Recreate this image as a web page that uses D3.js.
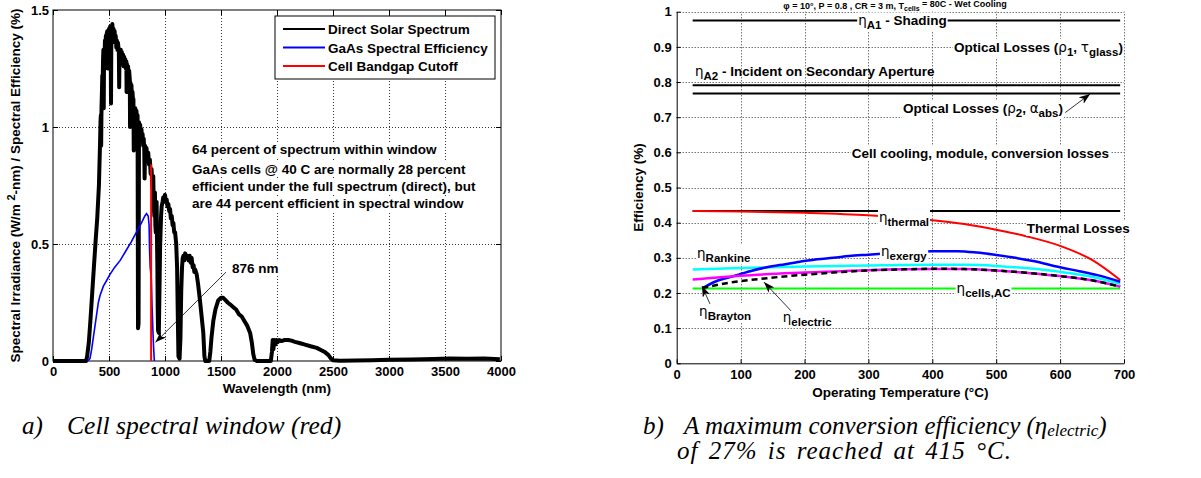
<!DOCTYPE html>
<html>
<head>
<meta charset="utf-8">
<script src="https://cdn.jsdelivr.net/npm/d3@7"></script>
<style>
  body { margin: 0; background: #fff; }
  svg text { font-family: "Liberation Sans", Arial, sans-serif; }
</style>
</head>
<body>
<svg id="fig" width="1201" height="478"></svg>
<script>
// ---------- panel a data (wavelength nm, W/m2-nm or fraction) ----------
var directSpectrum = [
  [0,0],[295,0],[305,0.02],[320,0.08],[335,0.18],[350,0.29],[365,0.40],[380,0.51],[395,0.61],
  [410,0.75],[420,0.93],[424,1.02],[427,1.05],[430,0.92],[433,1.08],[437,1.15],[440,1.22],
  [444,1.20],[447,1.29],[450,1.33],[453,1.08],[456,1.32],[460,1.30],[464,1.37],[468,1.33],
  [472,1.39],[476,1.35],[480,1.40],[485,1.41],[488,1.25],[491,1.40],[495,1.36],[500,1.42],
  [505,1.38],[510,1.43],[515,1.40],[518,1.10],[521,1.41],[525,1.37],[530,1.44],[535,1.39],
  [540,1.42],[545,1.37],[550,1.41],[555,1.36],[560,1.39],[565,1.34],[570,1.37],[575,1.33],
  [580,1.36],[588,1.32],[591,1.17],[594,1.33],[600,1.29],[605,1.33],[610,1.28],[615,1.32],
  [620,1.27],[625,1.31],[630,1.26],[635,1.30],[640,1.26],[645,1.29],[650,1.25],[655,1.28],
  [657,1.15],[660,1.27],[665,1.23],[670,1.26],[675,1.22],[680,1.24],[686,1.20],[688,1.00],
  [691,1.19],[695,1.15],[700,1.18],[705,1.13],[710,1.15],[715,1.10],[718,1.12],[721,0.90],
  [725,1.08],[730,1.05],[735,1.08],[740,1.04],[745,1.07],[750,1.03],[755,1.05],[759,0.14],
  [764,0.16],[768,1.02],[772,0.98],[778,1.01],[785,0.96],[790,0.99],[795,0.94],[800,0.97],
  [805,0.92],[810,0.95],[815,0.90],[818,0.78],[822,0.92],[828,0.88],[835,0.91],[842,0.86],
  [850,0.89],[857,0.84],[865,0.86],[872,0.80],[880,0.82],[885,0.76],[890,0.74],[895,0.79],
  [900,0.66],[905,0.62],[910,0.72],[914,0.58],[918,0.55],[922,0.66],[925,0.68],[929,0.50],
  [932,0.40],[935,0.22],[938,0.13],[945,0.12],[952,0.35],[956,0.48],[960,0.55],[965,0.62],
  [970,0.66],[978,0.68],[985,0.70],[992,0.68],[1000,0.71],[1008,0.68],[1015,0.69],[1022,0.66],
  [1030,0.67],[1038,0.64],[1045,0.65],[1052,0.61],[1060,0.62],[1068,0.58],[1075,0.59],
  [1082,0.55],[1090,0.55],[1100,0.50],[1108,0.40],[1114,0.20],[1120,0.02],[1130,0.01],
  [1138,0.10],[1145,0.30],[1152,0.40],[1158,0.44],[1165,0.45],[1172,0.43],[1180,0.46],
  [1190,0.44],[1200,0.45],[1210,0.43],[1220,0.45],[1230,0.42],[1238,0.44],[1247,0.40],
  [1255,0.41],[1262,0.38],[1270,0.39],[1283,0.37],[1295,0.33],[1312,0.26],[1325,0.20],
  [1342,0.12],[1352,0.02],[1360,0],[1395,0],[1405,0.04],[1415,0.10],[1431,0.17],[1450,0.22],
  [1476,0.26],[1500,0.27],[1520,0.27],[1540,0.26],[1560,0.25],[1585,0.24],[1610,0.23],
  [1635,0.22],[1660,0.20],[1685,0.19],[1710,0.17],[1735,0.15],[1760,0.12],[1775,0.08],
  [1788,0.03],[1800,0.005],[1820,0],[1945,0],[1955,0.04],[1962,0.09],[1968,0.05],[1975,0.09],
  [1985,0.07],[1995,0.09],[2005,0.08],[2020,0.09],[2040,0.085],[2070,0.09],[2100,0.09],
  [2130,0.087],[2160,0.082],[2200,0.077],[2250,0.07],[2300,0.063],[2355,0.056],[2400,0.045],
  [2430,0.037],[2458,0.026],[2480,0.012],[2500,0.003],[2560,0.001],[2700,0.002],[2850,0.003],
  [3000,0.005],[3200,0.006],[3400,0.009],[3545,0.011],[3700,0.01],[3850,0.011],[3990,0.008]
]
var gaasEfficiency = [
  [310,0],[330,0.01],[345,0.05],[360,0.10],[375,0.15],[390,0.20],[405,0.25],[420,0.28],
  [450,0.32],[480,0.345],[509,0.37],[550,0.40],[600,0.43],[650,0.47],[700,0.51],[750,0.555],
  [790,0.59],[820,0.62],[835,0.63],[850,0.62],[858,0.58],[862,0.48],[868,0.40],[878,0.35],
  [884,0.24],[892,0.13],[898,0.06],[905,0]
]
var bandgapCutoff = [[876,0],[876,0.84]]
var legendLabels = ["Direct Solar Spectrum", "GaAs Spectral Efficiency", "Cell Bandgap Cutoff"]
var wavelengthTicks = [0,500,1000,1500,2000,2500,3000,3500,4000]
var irradianceTicks = [0,0.5,1,1.5]
var windowNotes = [
  "64 percent of spectrum within window",
  "GaAs cells @ 40 C are normally 28 percent",
  "efficient under the full spectrum (direct), but",
  "are 44 percent efficient in spectral window"
]
var cutoffNote = "876 nm"

// ---------- panel b data (operating temperature C, efficiency) ----------
var tempTicks = [0,100,200,300,400,500,600,700]
var effTicks = [0,0.1,0.2,0.3,0.4,0.5,0.6,0.7,0.8,0.9,1]
var shadingEff = [[25,0.975],[694,0.975]]
var secondaryEff = [[25,0.791],[694,0.791]]
var opticalEff = [[25,0.767],[694,0.767]]
var thermalRef = [[25,0.433],[694,0.433]]
var thermalEff = [[25,0.433],[100,0.432],[200,0.428],[300,0.421],[400,0.407],[450,0.396],
  [500,0.38],[550,0.36],[600,0.334],[650,0.294],[694,0.237]]
var exergyEff = [[40,0.213],[60,0.232],[89,0.248],[115,0.262],[141,0.273],[170,0.282],
  [193,0.289],[220,0.296],[245,0.30],[270,0.305],[300,0.309],[330,0.313],[360,0.316],
  [400,0.319],[440,0.319],[470,0.315],[500,0.308],[530,0.30],[560,0.29],[600,0.273],
  [630,0.262],[660,0.25],[694,0.232]]
var rankineEff = [[25,0.267],[100,0.271],[200,0.275],[300,0.278],[400,0.28],[450,0.28],
  [500,0.277],[550,0.27],[600,0.26],[650,0.246],[694,0.226]]
var braytonEff = [[25,0.238],[100,0.249],[200,0.258],[300,0.265],[400,0.268],[450,0.268],
  [500,0.264],[550,0.257],[600,0.248],[650,0.236],[694,0.218]]
var electricEff = [[40,0.214],[89,0.231],[141,0.242],[193,0.251],[245,0.258],[300,0.264],
  [350,0.267],[415,0.269],[450,0.268],[500,0.264],[550,0.257],[600,0.248],[650,0.236],[694,0.218]]
var cellsEff = [[25,0.213],[694,0.213]]
var runTitle = ["φ = 10°, P = 0.8 , CR = 3 m, T", "cells", " = 80C - Wet Cooling"]

var svg = d3.select("#fig")
svg.append("rect").attr("width", 1201).attr("height", 478).attr("fill", "#fff")

var defs = svg.append("defs")
defs.append("marker").attr("id", "head")
    .attr("markerUnits", "userSpaceOnUse")
    .attr("markerWidth", 12).attr("markerHeight", 8)
    .attr("refX", 11).attr("refY", 4).attr("orient", "auto")
  .append("path").attr("d", "M0,0 L11,4 L0,8 L3,4 z").attr("fill", "#000")

// text with sub/superscripts, parts = [[text, kind]]
function richText(g, x, y, parts, size, bg) {
  var t = g.append("text").attr("x", x).attr("y", y)
      .attr("font-size", size).attr("font-weight", "bold").attr("fill", "#000")
  var shift = 0
  parts.forEach(function(p) {
    var kind = p[1] || ""
    var target = kind == "sub" ? 4 : (kind == "sup" ? -5 : 0)
    var s = t.append("tspan").attr("dy", target - shift).text(p[0])
    shift = target
    if (kind == "sub" || kind == "sup") s.attr("font-size", size - 2)
    if (kind == "sym") s.attr("font-weight", "normal").attr("font-family", "DejaVu Sans")
  })
  if (bg) {
    var b = t.node().getBBox()
    g.insert("rect", function() { return t.node() })
      .attr("x", b.x - 1).attr("y", b.y).attr("width", b.width + 2).attr("height", b.height)
      .attr("fill", "#fff")
  }
  return t
}

function styleAxis(sel) {
  sel.attr("font-size", 13).attr("font-weight", "bold")
     .attr("font-family", "'Liberation Sans', Arial, sans-serif")
  sel.selectAll(".tick line").attr("stroke", "#000")
  sel.selectAll(".tick text").attr("fill", "#000")
}

// ================= panel a =================
var xA = d3.scaleLinear().domain([0, 4000]).range([53, 501])
var yA = d3.scaleLinear().domain([0, 1.5]).range([361, 10])
var gA = svg.append("g")

gA.selectAll(".vgrid").data(wavelengthTicks.slice(1, -1)).enter().append("line")
    .attr("x1", function(d) { return Math.round(xA(d)) + 0.5 })
    .attr("x2", function(d) { return Math.round(xA(d)) + 0.5 })
    .attr("y1", yA(0)).attr("y2", yA(1.5))
    .attr("stroke", "#333").attr("stroke-dasharray", "1,2")
gA.selectAll(".hgrid").data(irradianceTicks.slice(1, -1)).enter().append("line")
    .attr("y1", function(d) { return Math.round(yA(d)) + 0.5 })
    .attr("y2", function(d) { return Math.round(yA(d)) + 0.5 })
    .attr("x1", xA(0)).attr("x2", xA(4000))
    .attr("stroke", "#333").attr("stroke-dasharray", "1,2")

var axA = gA.append("g").attr("transform", "translate(0," + yA(0) + ")")
    .call(d3.axisBottom(xA).tickValues(wavelengthTicks).tickSize(-5).tickPadding(6).tickFormat(d3.format("d")))
styleAxis(axA)
var ayA = gA.append("g").attr("transform", "translate(" + xA(0) + ",0)")
    .call(d3.axisLeft(yA).tickValues(irradianceTicks).tickSize(-5).tickPadding(4).tickFormat(d3.format("")))
styleAxis(ayA)
gA.append("g").attr("transform", "translate(0," + yA(1.5) + ")")
    .call(d3.axisTop(xA).tickValues(wavelengthTicks).tickSize(-5).tickFormat(""))
gA.append("g").attr("transform", "translate(" + xA(4000) + ",0)")
    .call(d3.axisRight(yA).tickValues(irradianceTicks).tickSize(-5).tickFormat(""))
gA.selectAll(".domain").remove()
gA.selectAll(".tick line").attr("stroke", "#000")

gA.append("rect").attr("x", xA(0)).attr("y", yA(1.5))
    .attr("width", xA(4000) - xA(0)).attr("height", yA(0) - yA(1.5))
    .attr("fill", "none").attr("stroke", "#000")

var lineA = d3.line().x(function(d) { return xA(d[0]) }).y(function(d) { return yA(d[1]) })
gA.append("path").datum(directSpectrum).attr("d", lineA)
    .attr("fill", "none").attr("stroke", "#000").attr("stroke-width", 4).attr("stroke-linejoin", "round")
gA.append("path").datum(gaasEfficiency).attr("d", lineA)
    .attr("fill", "none").attr("stroke", "#0000ff").attr("stroke-width", 1.6)
gA.append("path").datum(bandgapCutoff).attr("d", lineA)
    .attr("fill", "none").attr("stroke", "#ff0000").attr("stroke-width", 2)

// legend
var legColors = ["#000", "#0000ff", "#ff0000"]
var leg = gA.append("g").attr("transform", "translate(275,16)")
leg.append("rect").attr("width", 220).attr("height", 63).attr("fill", "#fff").attr("stroke", "#000")
legendLabels.forEach(function(lab, i) {
  var yy = 13 + i * 18.5
  leg.append("line").attr("x1", 8).attr("x2", 50).attr("y1", yy).attr("y2", yy)
     .attr("stroke", legColors[i]).attr("stroke-width", 2)
  leg.append("text").attr("x", 53).attr("y", yy + 5)
     .attr("font-size", 13.5).attr("font-weight", "bold").text(lab)
})

// annotations
var noteY = [0.906, 0.821, 0.748, 0.675]
windowNotes.forEach(function(s, i) {
  richText(gA, xA(1241), yA(noteY[i]) + 5, [[s]], 13.5, true)
})
richText(gA, xA(1598), yA(0.397) + 5, [[cutoffNote]], 13.5, true)
gA.append("line").attr("x1", xA(1545)).attr("y1", yA(0.38))
    .attr("x2", xA(915)).attr("y2", yA(0.08))
    .attr("stroke", "#000").attr("stroke-width", 0.8).attr("marker-end", "url(#head)")

// axis labels
gA.append("text").attr("x", (xA(0) + xA(4000)) / 2).attr("y", 393)
    .attr("text-anchor", "middle").attr("font-size", 13.5).attr("font-weight", "bold")
    .text("Wavelength (nm)")
var yl = gA.append("text").attr("transform", "translate(20," + ((yA(0) + yA(1.5)) / 2) + ") rotate(-90)")
    .attr("text-anchor", "middle").attr("font-size", 13.5).attr("font-weight", "bold")
yl.append("tspan").text("Spectral Irradiance (W/m ")
yl.append("tspan").attr("dy", -5).attr("font-size", 11).text("2")
yl.append("tspan").attr("dy", 5).text("-nm) / Spectral Efficiency (%)")

// ================= panel b =================
var xB = d3.scaleLinear().domain([0, 700]).range([676.7, 1124])
var yB = d3.scaleLinear().domain([0, 1]).range([363.3, 11.7])
var gB = svg.append("g")

// run conditions title squeezed into the top strip
richText(gB, 895, 8.5, [[runTitle[0]], [runTitle[1], "sub"], [runTitle[2]]], 9, false)
  .attr("text-anchor", "middle").selectAll("tspan").filter(function(d, i) { return i == 1 })
  .attr("dy", 2)

gB.selectAll(".vgrid").data(tempTicks.slice(1)).enter().append("line")
    .attr("x1", function(d) { return Math.round(xB(d)) + 0.5 })
    .attr("x2", function(d) { return Math.round(xB(d)) + 0.5 })
    .attr("y1", yB(0)).attr("y2", yB(1))
    .attr("stroke", "#333").attr("stroke-dasharray", "1,2")
gB.selectAll(".hgrid").data(effTicks.slice(1)).enter().append("line")
    .attr("y1", function(d) { return Math.round(yB(d)) + 0.5 })
    .attr("y2", function(d) { return Math.round(yB(d)) + 0.5 })
    .attr("x1", xB(0)).attr("x2", xB(700))
    .attr("stroke", "#333").attr("stroke-dasharray", "1,2")

var axB = gB.append("g").attr("transform", "translate(0," + yB(0) + ")")
    .call(d3.axisBottom(xB).tickValues(tempTicks).tickSize(-4).tickSizeOuter(0).tickPadding(6).tickFormat(d3.format("d")))
styleAxis(axB)
var ayB = gB.append("g").attr("transform", "translate(" + xB(0) + ",0)")
    .call(d3.axisLeft(yB).tickValues(effTicks).tickSize(-4).tickSizeOuter(0).tickPadding(5).tickFormat(d3.format("")))
styleAxis(ayB)
gB.selectAll(".domain").attr("stroke", "#000")

var lineB = d3.line().curve(d3.curveMonotoneX)
    .x(function(d) { return xB(d[0]) }).y(function(d) { return yB(d[1]) })
function curve(data, color, w, dash) {
  var p = gB.append("path").datum(data).attr("d", lineB)
      .attr("fill", "none").attr("stroke", color).attr("stroke-width", w)
  if (dash) p.attr("stroke-dasharray", dash)
}
curve(shadingEff, "#000", 2)
curve(secondaryEff, "#000", 2)
curve(opticalEff, "#000", 2)
curve(thermalRef, "#000", 2)
curve(thermalEff, "#ff0000", 2)
curve(cellsEff, "#00ff00", 2)
curve(rankineEff, "#00ffff", 2.5)
curve(exergyEff, "#0000ff", 2.5)
curve(braytonEff, "#ff00ff", 2.5)
curve(electricEff, "#000", 2.5, "6,4")

var eta = "η"
function labB(t, v, parts, bg) {
  return richText(gB, xB(t), yB(v) + 5, parts, 13.5, bg)
}
labB(284, 0.975, [[eta, "sym"], ["A1", "sub"], [" - Shading"]], true)
labB(28.6, 0.831, [[eta, "sym"], ["A2", "sub"], [" - Incident on Secondary Aperture"]], false)
labB(434, 0.9005, [["Optical Losses ("], ["ρ", "sym"], ["1", "sub"], [", "], ["τ", "sym"], ["glass", "sub"], [")"]], true)
labB(354, 0.726, [["Optical Losses ("], ["ρ", "sym"], ["2", "sub"], [", "], ["α", "sym"], ["abs", "sub"], [")"]], true)
labB(274, 0.598, [["Cell cooling, module, conversion losses"]], true)
labB(316.5, 0.416, [[eta, "sym"], ["thermal", "sub"]], true)
labB(548, 0.385, [["Thermal Losses"]], true)
labB(31.8, 0.314, [[eta, "sym"], ["Rankine", "sub"]], true)
labB(319.6, 0.319, [[eta, "sym"], ["exergy", "sub"]], true)
labB(35, 0.149, [[eta, "sym"], ["Brayton", "sub"]], true)
labB(166, 0.132, [[eta, "sym"], ["electric", "sub"]], true)
labB(438, 0.214, [[eta, "sym"], ["cells,AC", "sub"]], true)

function arrowB(t0, v0, t1, v1) {
  gB.append("line").attr("x1", xB(t0)).attr("y1", yB(v0)).attr("x2", xB(t1)).attr("y2", yB(v1))
    .attr("stroke", "#000").attr("stroke-width", 0.8).attr("marker-end", "url(#head)")
}
arrowB(608, 0.713, 647, 0.766)
arrowB(52, 0.169, 39.6, 0.22)
arrowB(179, 0.149, 136.6, 0.231)

gB.append("text").attr("x", (xB(0) + xB(700)) / 2).attr("y", 397)
    .attr("text-anchor", "middle").attr("font-size", 13.5).attr("font-weight", "bold")
    .text("Operating Temperature (°C)")
gB.append("text").attr("transform", "translate(643," + ((yB(0) + yB(1)) / 2) + ") rotate(-90)")
    .attr("text-anchor", "middle").attr("font-size", 13.5).attr("font-weight", "bold")
    .text("Efficiency (%)")

// ================= captions =================
function caption(x, y, s) {
  return svg.append("text").attr("x", x).attr("y", y)
    .attr("font-style", "italic").attr("font-size", 25).attr("fill", "#000")
    .style("font-family", "'Liberation Serif', 'Times New Roman', serif").text(s)
}
caption(22, 434, "a)")
caption(67, 434, "Cell spectral window (red)").attr("font-size", 25.6)
caption(643, 434, "b)")
var c2 = caption(684, 434, "A maximum conversion efficiency (")
c2.append("tspan").text("η")
c2.append("tspan").attr("font-size", 17).attr("dy", 2).text("electric")
c2.append("tspan").attr("dy", -2).text(")")
caption(677, 459, "of 27% is reached at 415 °C.").attr("letter-spacing", 1).attr("word-spacing", 3)
</script>
</body>
</html>
